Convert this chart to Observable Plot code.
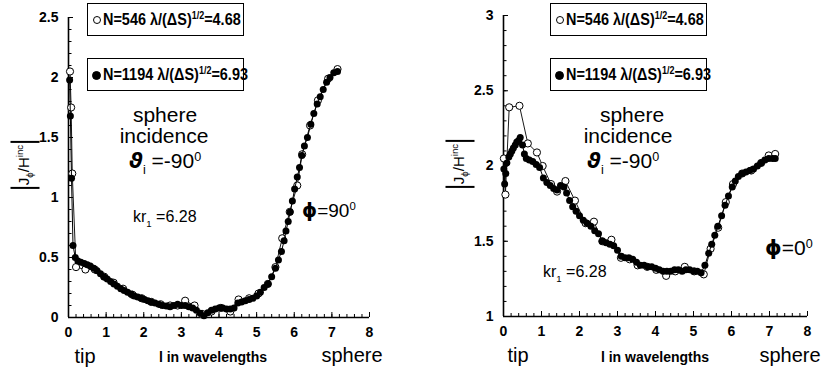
<!DOCTYPE html>
<html>
<head>
<meta charset="utf-8">
<script src="https://cdn.jsdelivr.net/npm/d3@7"></script>
<script src="https://cdn.jsdelivr.net/npm/@observablehq/plot@0.6"></script>
<style>
  body { margin: 0; background: #fff; }
  #chart { position: relative; width: 825px; height: 373px; overflow: hidden;
           font-family: "Liberation Sans", Arial, sans-serif; color: #000; }
  #chart svg { position: absolute; top: 0; }
  .t { position: absolute; white-space: nowrap; line-height: 1; }
  .c { transform: translateX(-50%); }
  .t sub, .t sup { position: relative; vertical-align: baseline; line-height: 0; font-size: 0.6em; }
  .t sub { top: 0.45em; }
  .t sup { top: -0.6em; }
  .greek { font-family: "DejaVu Sans", sans-serif; font-weight: bold; font-style: italic; }
  .box { position: absolute; width: 157px; height: 33px; border: 1.5px solid #000; box-sizing: border-box; }
  .box .lbl { position: absolute; left: 14.5px; top: 7px; font-size: 17px; font-weight: bold; line-height: 1;
              white-space: nowrap; transform: scaleX(0.85); transform-origin: 0 0; }
  .box .lbl sup { position: relative; vertical-align: baseline; font-size: 0.62em; top: -0.6em; line-height: 0; }
  .mk { position: absolute; width: 6px; height: 6px; border-radius: 50%; border: 1px solid #000; background: #fff; }
  .mk.fill { background: #000; width: 7px; height: 7px; }
  .ylab { position: absolute; transform: translate(-50%, -50%) rotate(-90deg); white-space: nowrap;
          font-size: 15px; line-height: 1; }
  .ylab .bar { display: inline-block; width: 1.7px; height: 29px; background: #000; vertical-align: middle; margin: 0 2px; }
  .ylab sub, .ylab sup { font-size: 0.65em; line-height: 0; }
</style>
</head>
<body>
<div id="chart"></div>
<script>
// Surface current |J_phi / H_inc| along the cone-sphere generatrix, l in wavelengths.
// phi = 90 degrees, fine mesh (N = 1194)
const phi90FineX = [0.03,0.05,0.08,0.12,0.18,0.25,0.33,0.42,0.5,0.58,0.67,0.76,0.85,0.94,1.03,1.12,1.21,1.3,1.39,1.48,1.57,1.66,1.75,1.84,1.93,2.02,2.11,2.2,2.3,2.4,2.5,2.6,2.7,2.8,2.9,3.0,3.1,3.2,3.3,3.4,3.5,3.6,3.7,3.8,3.9,4.0,4.1,4.2,4.3,4.4,4.5,4.6,4.7,4.8,4.9,5.0,5.1,5.2,5.3,5.4,5.5,5.58,5.66,5.73,5.78,5.84,5.89,5.95,6.01,6.08,6.14,6.2,6.27,6.35,6.44,6.52,6.61,6.69,6.77,6.86,6.95,7.05,7.15];
const phi90FineY = [1.98,1.68,1.16,0.6,0.5,0.47,0.46,0.45,0.44,0.43,0.41,0.39,0.365,0.34,0.32,0.3,0.28,0.26,0.24,0.225,0.21,0.195,0.18,0.17,0.16,0.15,0.14,0.13,0.12,0.11,0.1,0.095,0.09,0.1,0.11,0.1,0.1,0.09,0.08,0.06,0.035,0.015,0.04,0.06,0.07,0.08,0.08,0.07,0.07,0.08,0.12,0.13,0.14,0.15,0.16,0.18,0.21,0.25,0.28,0.34,0.41,0.48,0.55,0.64,0.72,0.8,0.88,0.97,1.07,1.17,1.25,1.35,1.43,1.5,1.61,1.7,1.78,1.84,1.9,1.96,2.0,2.04,2.05];
// phi = 90 degrees, coarse mesh (N = 546)
const phi90CoarseX = [0.04,0.07,0.1,0.2,0.45,0.7,0.95,1.2,1.45,1.7,1.95,2.2,2.45,2.7,2.9,3.1,3.35,3.55,3.8,4.05,4.3,4.52,4.8,5.05,5.3,5.5,5.68,5.88,6.08,6.21,6.42,6.63,6.9,7.15];
const phi90CoarseY = [2.05,1.75,1.2,0.42,0.4,0.4,0.34,0.29,0.24,0.19,0.16,0.13,0.11,0.1,0.1,0.14,0.1,0.03,0.05,0.08,0.05,0.15,0.16,0.2,0.28,0.42,0.66,0.88,1.1,1.36,1.6,1.81,1.99,2.07];
// phi = 0 degrees, fine mesh (N = 1194)
const phi0FineX = [0.01,0.03,0.06,0.09,0.14,0.18,0.22,0.26,0.31,0.35,0.4,0.44,0.5,0.55,0.6,0.68,0.77,0.86,0.95,1.05,1.14,1.23,1.32,1.41,1.5,1.59,1.66,1.74,1.82,1.91,2.0,2.1,2.2,2.3,2.4,2.5,2.6,2.7,2.8,2.9,3.0,3.1,3.2,3.3,3.4,3.5,3.6,3.7,3.8,3.9,4.0,4.1,4.2,4.3,4.4,4.5,4.6,4.7,4.8,4.9,5.0,5.1,5.2,5.3,5.4,5.48,5.56,5.64,5.74,5.83,5.92,6.02,6.1,6.18,6.28,6.38,6.48,6.58,6.68,6.78,6.88,6.98,7.08,7.15];
const phi0FineY = [1.98,1.88,1.95,2.02,2.06,2.08,2.1,2.12,2.14,2.16,2.17,2.19,2.14,2.08,2.05,2.04,2.03,2.01,1.99,1.92,1.89,1.87,1.85,1.84,1.87,1.86,1.82,1.77,1.73,1.7,1.67,1.64,1.62,1.6,1.57,1.55,1.5,1.49,1.48,1.47,1.44,1.4,1.39,1.39,1.38,1.36,1.34,1.34,1.33,1.33,1.32,1.31,1.3,1.3,1.3,1.31,1.31,1.3,1.31,1.31,1.3,1.3,1.29,1.34,1.42,1.48,1.54,1.6,1.67,1.74,1.8,1.86,1.9,1.93,1.95,1.96,1.97,1.98,2.0,2.02,2.04,2.05,2.05,2.05];
// phi = 0 degrees, coarse mesh (N = 546)
const phi0CoarseX = [0.01,0.05,0.15,0.42,0.64,0.88,1.03,1.25,1.41,1.63,1.88,2.16,2.38,2.6,2.84,3.09,3.32,3.53,3.78,4.02,4.28,4.52,4.77,5.02,5.27,5.45,5.65,5.85,6.04,6.28,6.52,6.78,6.98,7.15];
const phi0CoarseY = [2.05,1.81,2.39,2.4,2.15,2.09,2.0,1.88,1.83,1.9,1.77,1.62,1.63,1.5,1.51,1.39,1.38,1.34,1.33,1.31,1.27,1.3,1.33,1.3,1.28,1.45,1.59,1.76,1.88,1.95,1.97,2.02,2.07,2.08];

const xTicks = [0, 1, 2, 3, 4, 5, 6, 7, 8];
const phi90YTicks = [0, 0.5, 1, 1.5, 2, 2.5];
const phi0YTicks = [1, 1.5, 2, 2.5, 3];

const H = 373;
const zip = (xs, ys) => xs.map((x, i) => ({x, y: ys[i]}));

function panel({fineX, fineY, coarseX, coarseY, yDomain, yTicks, width, margin}) {
  const fine = zip(fineX, fineY);
  const coarse = zip(coarseX, coarseY);
  const innerW = width - margin.left - margin.right;
  const innerH = H - margin.top - margin.bottom;
  const xMinor = d3.range(0, 8.001, 0.2);
  const yMinor = d3.range(yDomain[0], yDomain[1] + 0.001, 0.1);
  return Plot.plot({
    width, height: H,
    marginLeft: margin.left, marginRight: margin.right,
    marginTop: margin.top, marginBottom: margin.bottom,
    x: {domain: [0, 8]},
    y: {domain: yDomain},
    style: {fontFamily: "'Liberation Sans', Arial, sans-serif", fontSize: "14px", fontWeight: "bold",
            color: "#000", background: "transparent", overflow: "visible"},
    marks: [
      Plot.tickX(xMinor, {x: d => d, insetTop: innerH - 3, strokeWidth: 1}),
      Plot.tickX(xTicks, {x: d => d, insetTop: innerH - 5, strokeWidth: 1}),
      Plot.tickY(yMinor, {y: d => d, insetRight: innerW - 3.5, strokeWidth: 1}),
      Plot.tickY(yTicks, {y: d => d, insetRight: innerW - 5, strokeWidth: 1}),
      Plot.ruleY([yDomain[0]], {strokeWidth: 1.6}),
      Plot.ruleX([0], {strokeWidth: 1.6}),
      Plot.axisX({ticks: xTicks, tickSize: 0, tickPadding: 10, tickFormat: d => String(d), label: null}),
      Plot.axisY({ticks: yTicks, tickSize: 0, tickPadding: 10, tickFormat: d => String(d), label: null}),
      // coarse mesh: thin line with open circles
      Plot.line(coarse, {x: "x", y: "y", stroke: "#000", strokeWidth: 0.9}),
      Plot.dot(coarse, {x: "x", y: "y", r: 3.6, fill: "#fff", stroke: "#000", strokeWidth: 1}),
      // fine mesh: thin line with filled dots, drawn on top
      Plot.line(fine, {x: "x", y: "y", stroke: "#000", strokeWidth: 1}),
      Plot.dot(fine, {x: "x", y: "y", r: 3.5, fill: "#000", stroke: "none"})
    ]
  });
}

const chart = document.getElementById("chart");

const left = panel({fineX: phi90FineX, fineY: phi90FineY, coarseX: phi90CoarseX, coarseY: phi90CoarseY,
  yDomain: [0, 2.5], yTicks: phi90YTicks, width: 420, margin: {left: 68, right: 51, top: 17, bottom: 56}});
left.style.left = "0px";
chart.appendChild(left);

const right = panel({fineX: phi0FineX, fineY: phi0FineY, coarseX: phi0CoarseX, coarseY: phi0CoarseY,
  yDomain: [1, 3], yTicks: phi0YTicks, width: 405, margin: {left: 83, right: 18, top: 15, bottom: 57}});
right.style.left = "420px";
chart.appendChild(right);

// Text placed by baseline: for line-height 1, baseline sits at about 0.85 em below the top.
function addText(html, {x, base, size, center = false, weight = "normal"}) {
  const d = document.createElement("div");
  d.className = "t" + (center ? " c" : "");
  d.style.left = x + "px";
  d.style.top = (base - 0.85 * size) + "px";
  d.style.fontSize = size + "px";
  d.style.fontWeight = weight;
  d.innerHTML = html;
  chart.appendChild(d);
}

function addLegend(x, y, filled, html) {
  const b = document.createElement("div");
  b.className = "box";
  b.style.left = x + "px";
  b.style.top = y + "px";
  b.innerHTML = `<span class="mk${filled ? " fill" : ""}" style="left:${filled ? 3.5 : 4.5}px;top:${filled ? 11.5 : 12}px"></span><span class="lbl">${html}</span>`;
  chart.appendChild(b);
}

function addYLabel(cx, cy) {
  const d = document.createElement("div");
  d.className = "ylab";
  d.style.left = cx + "px";
  d.style.top = cy + "px";
  d.innerHTML = `<span class="bar"></span>J<sub>ϕ</sub>/H<sup>inc</sup><span class="bar"></span>`;
  chart.appendChild(d);
}

const legendCoarse = "N=546 λ/(ΔS)<sup>1/2</sup>=4.68";
const legendFine = "N=1194 λ/(ΔS)<sup>1/2</sup>=6.93";
const theta = `<span class="greek">ϑ</span><sub>i</sub> =-90<sup>0</sup>`;
const kr = "kr<sub>1</sub> =6.28";

// left panel, phi = 90
addLegend(87, 3, false, legendCoarse);
addLegend(87, 58, true, legendFine);
addText("sphere", {x: 165, base: 122, size: 21, center: true});
addText("incidence", {x: 164, base: 143, size: 21, center: true});
addText(theta, {x: 129, base: 168, size: 21});
addText(kr, {x: 133, base: 223, size: 16});
addText(`<span class="greek" style="font-style:normal">ϕ</span>=90<sup>0</sup>`, {x: 302, base: 217, size: 19});
addText("tip", {x: 85, base: 363, size: 20, center: true});
addText("l in wavelengths", {x: 213, base: 362, size: 14, center: true, weight: "bold"});
addText("sphere", {x: 352, base: 362, size: 20, center: true});
addYLabel(25, 165);

// right panel, phi = 0
addLegend(550, 3, false, legendCoarse);
addLegend(550, 58, true, legendFine);
addText("sphere", {x: 632, base: 122, size: 21, center: true});
addText("incidence", {x: 628, base: 143, size: 21, center: true});
addText(theta, {x: 587, base: 168, size: 21});
addText(kr, {x: 543, base: 278, size: 16});
addText(`<span class="greek" style="font-style:normal">ϕ</span>=0<sup>0</sup>`, {x: 765, base: 255, size: 21});
addText("tip", {x: 518, base: 362, size: 20, center: true});
addText("l in wavelengths", {x: 655, base: 362, size: 14, center: true, weight: "bold"});
addText("sphere", {x: 790, base: 362, size: 20, center: true});
addYLabel(460, 164);
</script>
</body>
</html>
